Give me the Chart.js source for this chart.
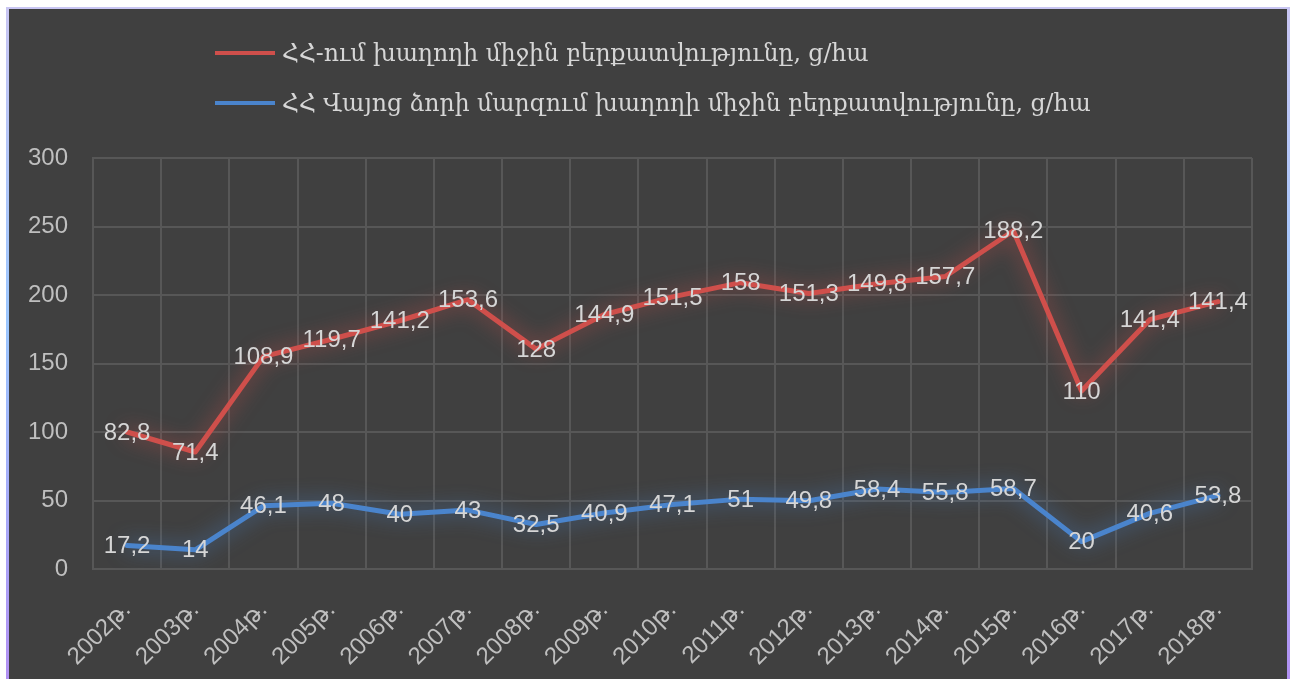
<!DOCTYPE html>
<html>
<head>
<meta charset="utf-8">
<script src="https://cdn.jsdelivr.net/npm/chart.js@4"></script>
<style>
  html, body { margin:0; padding:0; background:#ffffff; width:1297px; height:679px; overflow:hidden; }
  #frame { position:absolute; left:6px; top:7px; width:1278px; height:700px; background:#404040;
           border-style:solid; border-width:2px 3px 0 3px;
           border-image: linear-gradient(180deg,#c9c6f3 0%,#9cc7ff 45%,#b48cf2 100%) 1; }
  #wrap { position:absolute; left:0; top:0; width:1297px; height:679px; }
  #legend { position:absolute; left:215px; top:34px; font-family:'DejaVu Serif', serif; font-size:23.5px; color:#d6d6d6; }
  .item { position:relative; height:50px; line-height:38px; white-space:nowrap; }
  .swatch { display:inline-block; width:60px; height:4px; vertical-align:middle; margin-right:7px; position:relative; top:-2px; }
</style>
</head>
<body>
<div id="frame"></div>
<div id="wrap"><canvas id="c" width="1297" height="679"></canvas></div>
<div id="legend"></div>
<script>
const categories = ['2002թ.','2003թ.','2004թ.','2005թ.','2006թ.','2007թ.','2008թ.','2009թ.','2010թ.','2011թ.','2012թ.','2013թ.','2014թ.','2015թ.','2016թ.','2017թ.','2018թ.'];
const armeniaYield = [82.8, 71.4, 108.9, 119.7, 141.2, 153.6, 128, 144.9, 151.5, 158, 151.3, 149.8, 157.7, 188.2, 110, 141.4, 141.4];
const vayotsDzorYield = [17.2, 14, 46.1, 48, 40, 43, 32.5, 40.9, 47.1, 51, 49.8, 58.4, 55.8, 58.7, 20, 40.6, 53.8];
const seriesNames = ['ՀՀ-ում խաղողի միջին բերքատվությունը, ց/հա', 'ՀՀ Վայոց ձորի մարզում խաղողի միջին բերքատվությունը, ց/հա'];
const yTicks = [0, 50, 100, 150, 200, 250, 300];

const RED = '#cf4f4b', BLUE = '#4a84cc';
const NUMFONT = "'Liberation Sans', 'DejaVu Sans', sans-serif";

// HTML legend
const lg = document.getElementById('legend');
[[RED, seriesNames[0]], [BLUE, seriesNames[1]]].forEach(([c, t]) => {
  const d = document.createElement('div'); d.className = 'item';
  const s = document.createElement('span'); s.className = 'swatch'; s.style.background = c;
  d.appendChild(s); d.appendChild(document.createTextNode(t)); lg.appendChild(d);
});

const glow = {
  id: 'glow',
  beforeDatasetDraw(chart, args) {
    const ctx = chart.ctx; ctx.save();
    ctx.shadowColor = args.index === 1 ? 'rgba(207,79,75,0.8)' : 'rgba(74,132,204,0.8)';
    ctx.shadowBlur = 20;
  },
  afterDatasetDraw(chart) { chart.ctx.restore(); }
};
const labels = {
  id: 'vlabels',
  afterDatasetsDraw(chart) {
    const ctx = chart.ctx; ctx.save();
    ctx.font = '24px ' + NUMFONT; ctx.fillStyle = '#d6d6d6';
    ctx.textAlign = 'center'; ctx.textBaseline = 'middle';
    chart.data.datasets.forEach((ds, i) => {
      chart.getDatasetMeta(i).data.forEach((pt, j) => {
        ctx.fillText(String(ds.data[j]).replace('.', ','), pt.x, pt.y + 1);
      });
    });
    ctx.restore();
  }
};

new Chart(document.getElementById('c'), {
  type: 'line',
  data: {
    labels: categories,
    datasets: [
      { label: seriesNames[1], data: vayotsDzorYield, borderColor: BLUE, backgroundColor: BLUE, borderWidth: 5, pointRadius: 0, tension: 0, fill: false, borderJoinStyle: 'round', borderCapStyle: 'round' },
      { label: seriesNames[0], data: armeniaYield, borderColor: RED, backgroundColor: RED, borderWidth: 5, pointRadius: 0, tension: 0, fill: false, borderJoinStyle: 'round', borderCapStyle: 'round' }
    ]
  },
  options: {
    responsive: false, animation: false,
    layout: { padding: { top: 158, right: 45, bottom: 0, left: 0 } },
    plugins: { legend: { display: false }, tooltip: { enabled: false } },
    scales: {
      x: {
        offset: true,
        grid: { color: '#575757', lineWidth: 2, offset: true, drawTicks: false },
        border: { display: true, color: '#575757', width: 2 },
        ticks: { color: '#bfbfbf', font: { family: NUMFONT, size: 24 }, maxRotation: 45, minRotation: 45, autoSkip: false, padding: 27 },
        afterFit(s) { s.height = 110; }
      },
      y: {
        stacked: true, min: 0, max: 300,
        afterBuildTicks(s) { s.ticks = yTicks.map(v => ({ value: v })); },
        grid: { color: '#575757', lineWidth: 2, drawTicks: false },
        border: { display: true, color: '#575757', width: 2 },
        ticks: { color: '#bfbfbf', font: { family: NUMFONT, size: 24 }, padding: 25 },
        afterFit(s) { s.width = 93; }
      }
    }
  },
  plugins: [glow, labels]
});
</script>
</body>
</html>
